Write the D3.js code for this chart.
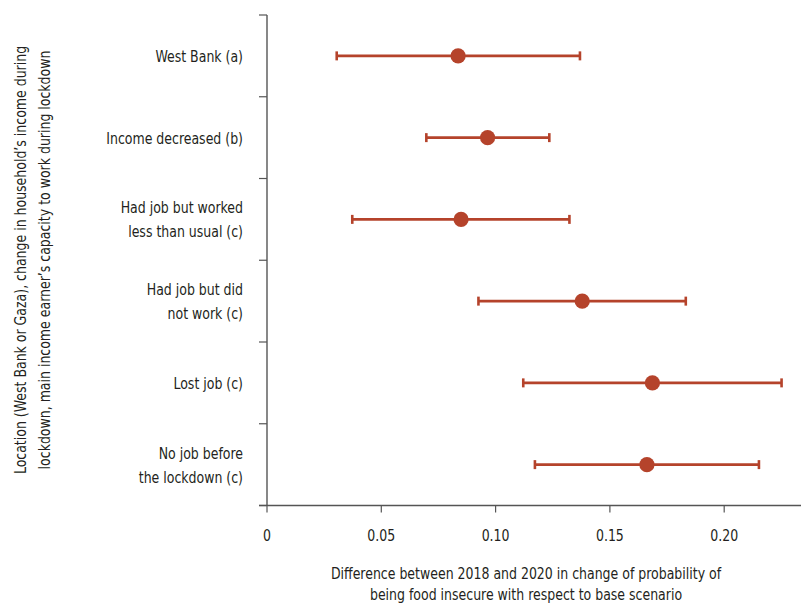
<!DOCTYPE html>
<html>
<head>
<meta charset="utf-8">
<script src="https://cdn.jsdelivr.net/npm/d3@7"></script>
<style>
  html, body { margin: 0; padding: 0; background: #fff; }
  svg { display: block; }
  text { font-family: "Liberation Sans Narrow", "DejaVu Sans Condensed", "Roboto Condensed", sans-serif; fill: #231f20; }
</style>
</head>
<body>
<svg id="chart" width="801" height="608"></svg>
<script>
// ---- data ----
const categories = [
  ["West Bank (a)"],
  ["Income decreased (b)"],
  ["Had job but worked", "less than usual (c)"],
  ["Had job but did", "not work (c)"],
  ["Lost job (c)"],
  ["No job before", "the lockdown (c)"]
];
const estimates = [0.0836, 0.0965, 0.0849, 0.1379, 0.1686, 0.1662];
const lowerCI   = [0.0305, 0.0697, 0.0373, 0.0925, 0.1121, 0.1172];
const upperCI   = [0.1369, 0.1235, 0.1323, 0.1832, 0.2251, 0.2152];
const xTicks = [0, 0.05, 0.10, 0.15, 0.20];
const xTickLabels = ["0", "0.05", "0.10", "0.15", "0.20"];
const yTitle = ["Location (West Bank or Gaza), change in household\u2019s income during",
                "lockdown, main income earner\u2019s capacity to work during lockdown"];
const xTitle = ["Difference between 2018 and 2020 in change of probability of",
                "being food insecure with respect to base scenario"];

// ---- layout ----
const svg = d3.select("#chart");
const mLeft = 267, mRight = 801, mTop = 15, mBottom = 505.5;
const color = "#b5432b";
const axisColor = "#555";
const squeeze = 0.87;

function narrow(sel) {
  sel.each(function() {
    const w = this.getComputedTextLength();
    d3.select(this).attr("textLength", w * squeeze).attr("lengthAdjust", "spacingAndGlyphs");
  });
}

const x = d3.scaleLinear().domain([0, 0.2336]).range([mLeft, mRight]);
const idx = d3.range(categories.length);
const y = d3.scaleBand().domain(idx).range([mTop, mBottom]).padding(0);

// y axis line + boundary ticks
svg.append("line").attr("x1", mLeft).attr("x2", mLeft).attr("y1", mTop).attr("y2", mBottom)
  .attr("stroke", axisColor).attr("stroke-width", 1.4);
const bounds = idx.map(i => y(i)).concat([mBottom]);
svg.selectAll(".ytick").data(bounds).join("line")
  .attr("x1", mLeft - 8).attr("x2", mLeft)
  .attr("y1", d => d).attr("y2", d => d)
  .attr("stroke", axisColor).attr("stroke-width", 1.2);

// x axis
svg.append("line").attr("x1", mLeft - 8).attr("x2", mRight).attr("y1", mBottom).attr("y2", mBottom)
  .attr("stroke", axisColor).attr("stroke-width", 1.4);
svg.selectAll(".xtick").data(xTicks).join("line")
  .attr("x1", d => x(d)).attr("x2", d => x(d))
  .attr("y1", mBottom).attr("y2", mBottom + 7)
  .attr("stroke", axisColor).attr("stroke-width", 1.2);
svg.selectAll(".xlab").data(xTicks).join("text")
  .attr("x", d => x(d)).attr("y", mBottom + 35)
  .attr("text-anchor", "middle").attr("font-size", 16)
  .text((d, i) => xTickLabels[i])
  .call(narrow);

// category labels
const catG = svg.selectAll(".cat").data(idx).join("text")
  .attr("text-anchor", "end").attr("font-size", 16)
  .attr("transform", i => `translate(243, ${y(i) + y.bandwidth() / 2})`);
catG.each(function(i) {
  const lines = categories[i];
  const n = lines.length;
  d3.select(this).selectAll("tspan").data(lines).join("tspan")
    .attr("x", 0)
    .attr("y", (d, j) => (j - (n - 1) / 2) * 24 + 6)
    .text(d => d)
    .call(narrow);
});

// error bars
const g = svg.append("g");
idx.forEach(i => {
  const cy = y(i) + y.bandwidth() / 2;
  g.append("line").attr("x1", x(lowerCI[i])).attr("x2", x(upperCI[i]))
    .attr("y1", cy).attr("y2", cy).attr("stroke", color).attr("stroke-width", 2.6);
  [lowerCI[i], upperCI[i]].forEach(v => {
    g.append("line").attr("x1", x(v)).attr("x2", x(v))
      .attr("y1", cy - 4.5).attr("y2", cy + 4.5)
      .attr("stroke", color).attr("stroke-width", 2.6);
  });
  g.append("circle").attr("cx", x(estimates[i])).attr("cy", cy).attr("r", 7.6).attr("fill", color);
});

// axis titles
svg.append("text").attr("text-anchor", "middle").attr("font-size", 16)
  .attr("transform", "translate(26, 260) rotate(-90)")
  .selectAll("tspan").data(yTitle).join("tspan")
  .attr("x", 0).attr("y", (d, j) => j * 24).text(d => d)
  .call(narrow);

svg.append("text").attr("text-anchor", "middle").attr("font-size", 16)
  .selectAll("tspan").data(xTitle).join("tspan")
  .attr("x", 526).attr("y", (d, j) => 579 + j * 21).text(d => d)
  .call(narrow);
</script>
</body>
</html>
